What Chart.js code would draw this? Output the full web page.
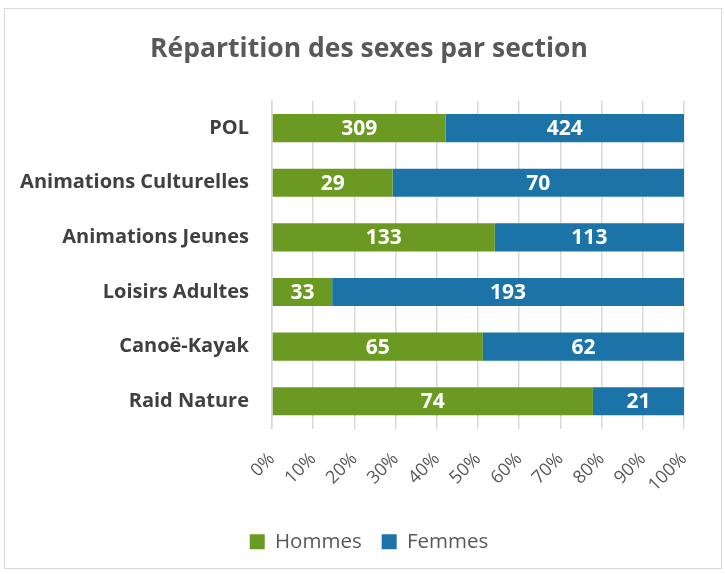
<!DOCTYPE html>
<html>
<head>
<meta charset="utf-8">
<script src="https://cdn.jsdelivr.net/npm/chart.js@4"></script>
<style>
  html, body { margin: 0; padding: 0; background: #fff; }
  #wrap { position: relative; width: 725px; height: 574px; }
  #frame { position: absolute; left: 4px; top: 8px; width: 718px; height: 561px; border: 1px solid #d9d9d9; box-sizing: border-box; pointer-events: none; }
  canvas { position: absolute; left: 0; top: 0; }
</style>
</head>
<body>
<div id="wrap">
  <canvas id="c" width="725" height="574"></canvas>
  <div id="frame"></div>
</div>
<script>
const categories = ["POL", "Animations Culturelles", "Animations Jeunes", "Loisirs Adultes", "Canoë-Kayak", "Raid Nature"];
const hommes = [309, 29, 133, 33, 65, 74];
const femmes = [424, 70, 113, 193, 62, 21];
const seriesNames = ["Hommes", "Femmes"];
const titleText = "Répartition des sexes par section";

const totals = hommes.map((h, i) => h + femmes[i]);
const pct = (arr) => arr.map((v, i) => v / totals[i] * 100);
const rawValues = [hommes, femmes];

const FONT = "'Open Sans', sans-serif";

const dataLabels = {
  id: 'dataLabels',
  afterDatasetsDraw(chart) {
    const ctx = chart.ctx;
    ctx.save();
    ctx.fillStyle = '#ffffff';
    ctx.font = "bold 21px " + FONT;
    ctx.textAlign = 'center';
    ctx.textBaseline = 'middle';
    chart.data.datasets.forEach((ds, di) => {
      const meta = chart.getDatasetMeta(di);
      meta.data.forEach((bar, i) => {
        const cx = (bar.x + bar.base) / 2;
        ctx.fillText(String(rawValues[di][i]), cx, bar.y + 1);
      });
    });
    ctx.restore();
  }
};

new Chart(document.getElementById('c'), {
  type: 'bar',
  data: {
    labels: categories,
    datasets: [
      { label: seriesNames[0], data: pct(hommes), backgroundColor: '#6b9a22', borderWidth: 0 },
      { label: seriesNames[1], data: pct(femmes), backgroundColor: '#1b73a7', borderWidth: 0 }
    ]
  },
  options: {
    indexAxis: 'y',
    responsive: false,
    animation: false,
    devicePixelRatio: 1,
    layout: { padding: { top: 8, left: 54, right: 41, bottom: 12 } },
    datasets: { bar: { categoryPercentage: 1, barPercentage: 0.515 } },
    scales: {
      x: {
        stacked: true,
        min: 0, max: 100,
        ticks: {
          stepSize: 10,
          autoSkip: false,
          maxRotation: 45, minRotation: 45,
          color: '#595959',
          font: { family: FONT, size: 18 },
          padding: 20,
          callback: (v) => v + '%'
        },
        grid: { color: '#d9d9d9', lineWidth: 1.5, drawTicks: false },
        border: { display: false },
        afterFit: (s) => { s.height = 83; }
      },
      y: {
        stacked: true,
        ticks: {
          color: '#404040',
          font: { family: FONT, size: 20, weight: 'bold' },
          padding: 23
        },
        grid: { display: false, drawTicks: false },
        border: { display: true, color: '#d9d9d9', width: 1.5 },
        afterFit: (s) => { s.width = 218; s._computeLabelArea = () => undefined; }
      }
    },
    plugins: {
      title: {
        display: true,
        text: titleText,
        color: '#595959',
        font: { family: FONT, size: 26.5, weight: 'bold' },
        padding: { top: 26, bottom: 35 }
      },
      legend: {
        position: 'bottom',
        labels: {
          color: '#595959',
          font: { family: FONT, size: 20.5 },
          boxWidth: 15, boxHeight: 15,
          padding: 20
        }
      },
      tooltip: { enabled: false }
    }
  },
  plugins: [dataLabels]
});
</script>
</body>
</html>
